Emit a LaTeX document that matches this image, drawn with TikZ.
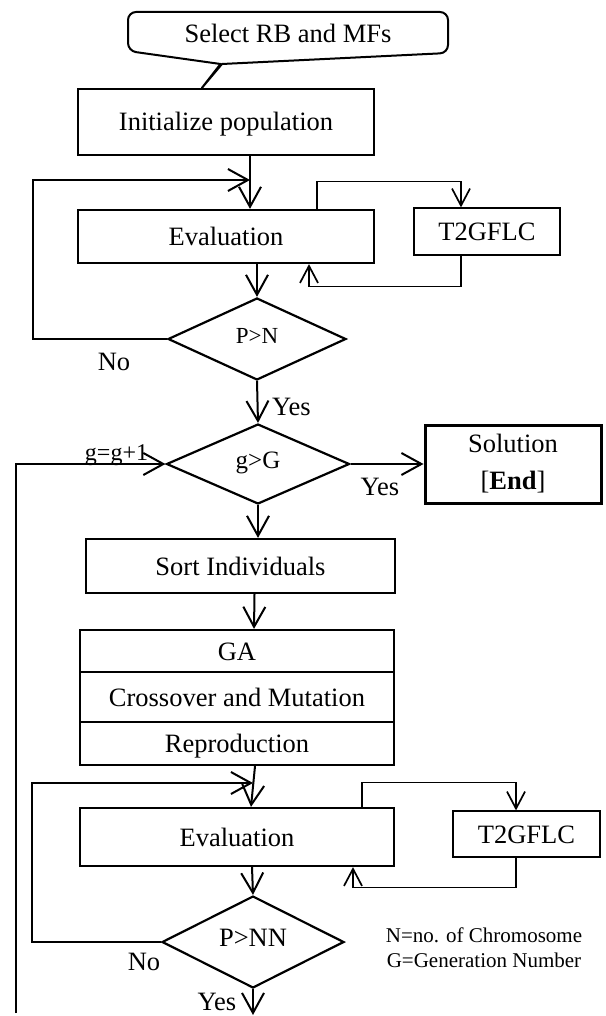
\documentclass[tikz,border=0pt]{standalone}
\usepackage{fontspec}
\setmainfont{Liberation Serif}
\usetikzlibrary{arrows.meta,shapes.geometric,calc}
\newcommand\fmain{\fontsize{26.5pt}{30pt}\selectfont}
\newcommand\fmid{\fontsize{25pt}{28pt}\selectfont}
\newcommand\fsmall{\fontsize{23pt}{26pt}\selectfont}
\newcommand\fgl{\fontsize{24pt}{27pt}\selectfont}
\newcommand\fnote{\fontsize{21pt}{25pt}\selectfont}
\begin{document}
\begin{tikzpicture}[x=1pt,y=-1pt,
  box/.style={draw, line width=2.2pt, rectangle, inner sep=0pt, text height=18pt, text depth=0pt, font=\fmain},
  tbox/.style={draw, line width=1.2pt, rectangle, inner sep=0pt, text height=18pt, text depth=0pt, font=\fmain},
  sbox/.style={draw, line width=3pt, rectangle, inner sep=0pt, align=center, font=\fmain},
  dia/.style={draw, line width=2.2pt, diamond, inner sep=0pt, text height=16pt, text depth=8pt},
  lbl/.style={inner sep=0pt, font=\fmain},
  arr/.style={line width=2pt, -{Straight Barb[length=20pt,width=22pt]}},
  tarr/.style={line width=1.7pt, -{Straight Barb[length=17pt,width=18pt]}},
  tline/.style={line width=1.7pt}
]
\useasboundingbox (0,0) rectangle (605,1016);

% nodes
\node[lbl] (sel) at (288,33) {Select RB and MFs};
\node[box, minimum width=296pt, minimum height=66pt] (init) at (226,122) {Initialize population};
\node[box, minimum width=296pt, minimum height=53pt] (ev1) at (226,236.5) {Evaluation};
\node[tbox, minimum width=146pt, minimum height=47pt] (t2a) at (487,231.5) {T2GFLC};
\node[dia, minimum width=178pt, minimum height=82pt, font=\fsmall] (pn) at (257,339) {P>N};
\node[dia, minimum width=183pt, minimum height=80pt, font=\fmid] (gg) at (258,464) {g>G};
\node[sbox, minimum width=176pt, minimum height=78pt] (sol) at (513,464) {Solution\\[7pt]{[}\textbf{End}{]}};
\node[box, minimum width=309pt, minimum height=54pt] (sort) at (240.5,566) {Sort Individuals};
\node[box, minimum width=314pt, minimum height=42pt] (ga) at (237,651) {GA};
\node[box, minimum width=314pt, minimum height=50pt] (cm) at (237,697) {Crossover and Mutation};
\node[box, minimum width=314pt, minimum height=43pt] (rep) at (237,743.5) {Reproduction};
\node[box, minimum width=314pt, minimum height=58pt] (ev2) at (237,837) {Evaluation};
\node[tbox, minimum width=147pt, minimum height=46pt] (t2b) at (526.5,834) {T2GFLC};
\node[dia, minimum width=182pt, minimum height=82pt, font=\fmain] (pnn) at (253,942) {P>NN};
\node[inner sep=0pt, font=\fnote, align=center] (notes) at (484,948) {N=no. of Chromosome\\G=Generation Number};

% labels
\node[lbl] (no1) at (114,362) {No};
\node[lbl, anchor=west] (yes1) at (272,407) {Yes};
\node[lbl, anchor=base, font=\fgl] (gplus) at (116.5,460) {g=g+1};
\node[lbl, anchor=base] (yes2) at (380,495) {Yes};
\node[lbl] (no2) at (144,962) {No};
\node[lbl, anchor=base] (yes3) at (217,1010) {Yes};

% callout shape
\coordinate (tip) at ([xshift=125pt]init.north west);
\draw[line width=2pt, line join=round]
  (128,32) [rounded corners=8pt] -- (128,12) -- (448,12) -- (448,53) [sharp corners] -- (222,64) -- (tip) -- (220.5,64) [rounded corners=8pt] -- (128,51) [sharp corners] -- cycle;

% coordinates for free ends
\coordinate (l1) at (33,180);
\coordinate (m1) at (250,180);
\coordinate (l2) at (32,783);
\coordinate (m2) at (253,783);
\coordinate (gl) at (16,1013);
\coordinate (endc) at (253,1015);

% connectors
\draw[arr] ([xshift=24pt]init.south) -- ([xshift=24pt]ev1.north);
\draw[arr] (pn.west) -| (l1) -- (m1);
\draw[tarr] ([xshift=91pt]ev1.north) |- ([xshift=-26pt,yshift=26pt]t2a.north) -- ([xshift=-26pt]t2a.north);
\draw[tarr] ([xshift=-26pt]t2a.south) -- ++(0,31) -| ([xshift=83pt]ev1.south);
\draw[arr] ([xshift=31pt]ev1.south) -- (pn.north);
\draw[arr] (pn.south) -- (gg.north);
\draw[arr] (gg.east) -- (sol.west);
\draw[arr] (gl) |- (gg.west);
\draw[arr] (gg.south) -- (gg.south |- sort.north);
\draw[arr] ([xshift=14pt]sort.south) -- ([xshift=17pt]ga.north);
\draw[arr] ([xshift=18pt]rep.south) -- ([xshift=14pt]ev2.north);
\draw[arr] (pnn.west) -| (l2) -- (m2);
\draw[tarr] ([xshift=125pt]ev2.north) |- ([xshift=-10.5pt,yshift=28pt]t2b.north) -- ([xshift=-10.5pt]t2b.north);
\draw[tarr] ([xshift=-10.5pt]t2b.south) -- ++(0,30) -| ([xshift=116pt]ev2.south);
\draw[arr] ([xshift=15pt]ev2.south) -- (pnn.north);
\draw[arr] (pnn.south) -- (endc);
\end{tikzpicture}
\end{document}
